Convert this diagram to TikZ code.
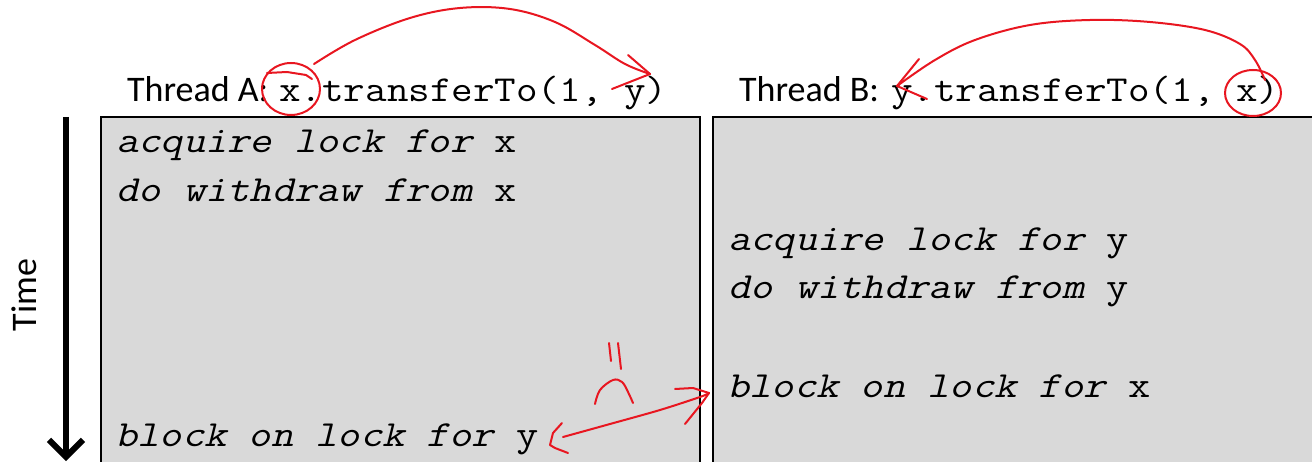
\documentclass[tikz,border=0pt]{standalone}
\usepackage{fontspec}
\usepackage{graphicx}
\setmainfont{Carlito}
\setmonofont{Latin Modern Mono}
\newfontfamily\monoslant[FakeSlant=0.21]{Latin Modern Mono}
\usetikzlibrary{arrows.meta}
\definecolor{boxgray}{HTML}{D9D9D9}
\definecolor{pen}{RGB}{232,22,32}
\tikzset{
  box/.style={draw=black, fill=boxgray, line width=2pt, inner sep=0pt, anchor=north west},
  hdr/.style={anchor=base west, inner sep=0pt, font=\fontsize{36}{42}\selectfont},
  code/.style={anchor=base west, inner sep=0pt, font=\fontsize{36.6}{44}\selectfont\ttfamily},
  line/.style={anchor=base west, inner sep=0pt, font=\fontsize{36.8}{44}\selectfont\ttfamily},
  ink/.style={draw=pen, line width=2pt, line cap=round, line join=round},
}
\newcommand{\wide}[1]{\scalebox{1.144}[1]{#1}}
\newcommand{\act}[2]{\scalebox{1.175}[1]{{\monoslant #1\ }#2}}
\begin{document}
\begin{tikzpicture}[x=1pt,y=-1pt]
\useasboundingbox (0,0) rectangle (1312,462);
\clip (0,0) rectangle (1312,462);
% boxes
\node[box, minimum width=599pt, minimum height=380pt] (boxA) at (100,116) {};
\node[box, minimum width=640pt, minimum height=380pt] (boxB) at (712,116) {};
% headers
\node[hdr] (thA) at (127,102) {Thread A:};
\node[code] (cA) at (279,102) {\wide{x.transferTo(1, y)}};
\node[hdr] (thB) at (739,102) {Thread B:};
\node[code] (cB) at (891,102) {\wide{y.transferTo(1, x)}};
% box A lines
\node[line] (a1) at (116,153) {\act{acquire lock for}{x}};
\node[line] (a2) at (116,202) {\act{do withdraw from}{x}};
\node[line] (a3) at (115,446) {\act{block on lock for}{y}};
% box B lines
\node[line] (b1) at (728,251) {\act{acquire lock for}{y}};
\node[line] (b2) at (728,299) {\act{do withdraw from}{y}};
\node[line] (b3) at (727,397) {\act{block on lock for}{x}};
% time
\node[rotate=90, inner sep=0pt, font=\fontsize{36}{40}\selectfont] (time) at (24,295) {Time};
\coordinate (t0) at (66,117);
\coordinate (t1) at (66,461);
\draw[line width=6pt, -{Straight Barb[length=17pt, width=34pt, line width=6pt]}] (t0) -- (t1);
% red annotations: circles
\draw[ink] (291,89) ellipse [x radius=29, y radius=26];
\draw[ink] (267,73) -- (287,72) -- (306,75) -- (312,79);
\draw[ink] (1253,93) ellipse [x radius=28, y radius=23];
% arc A
\coordinate (arcA0) at (314,64);
\coordinate (arcA1) at (650,74);
\draw[ink] plot[smooth, tension=0.6] coordinates {(314,64) (355,40) (410,18) (460,8) (510,9) (555,22) (595,45) (625,64) (650,74)};
\draw[ink] (628,55) -- (arcA1) -- (612,89);
% arc B
\coordinate (arcB0) at (1265,80);
\coordinate (arcB1) at (897,86);
\draw[ink] plot[smooth, tension=0.6] coordinates {(1265,80) (1255,60) (1240,44) (1205,30) (1150,22) (1090,20) (1030,25) (975,40) (935,60) (897,86)};
\draw[ink] (919,59) -- (arcB1) -- (927,99);
% double arrow between blocks
\coordinate (dL) at (552,441);
\coordinate (dR) at (709,393);
\draw[ink] plot[smooth, tension=0.5] coordinates {(563,437) (610,424) (660,410) (700,397) (709,393)};
\draw[ink] (562,423) -- (553,433) -- (550,445) -- (555,448) -- (568,453);
\draw[ink] (675,389) -- (693,388) -- (709,393) -- (702,403) -- (685,424);
% marks above
\draw[ink] (609,343) -- (611,361);
\draw[ink] (618,343) -- (621,369);
\draw[ink] plot[smooth, tension=0.6] coordinates {(595,404) (600,390) (613,380) (622,382) (628,392) (633,403)};
\end{tikzpicture}
\end{document}
